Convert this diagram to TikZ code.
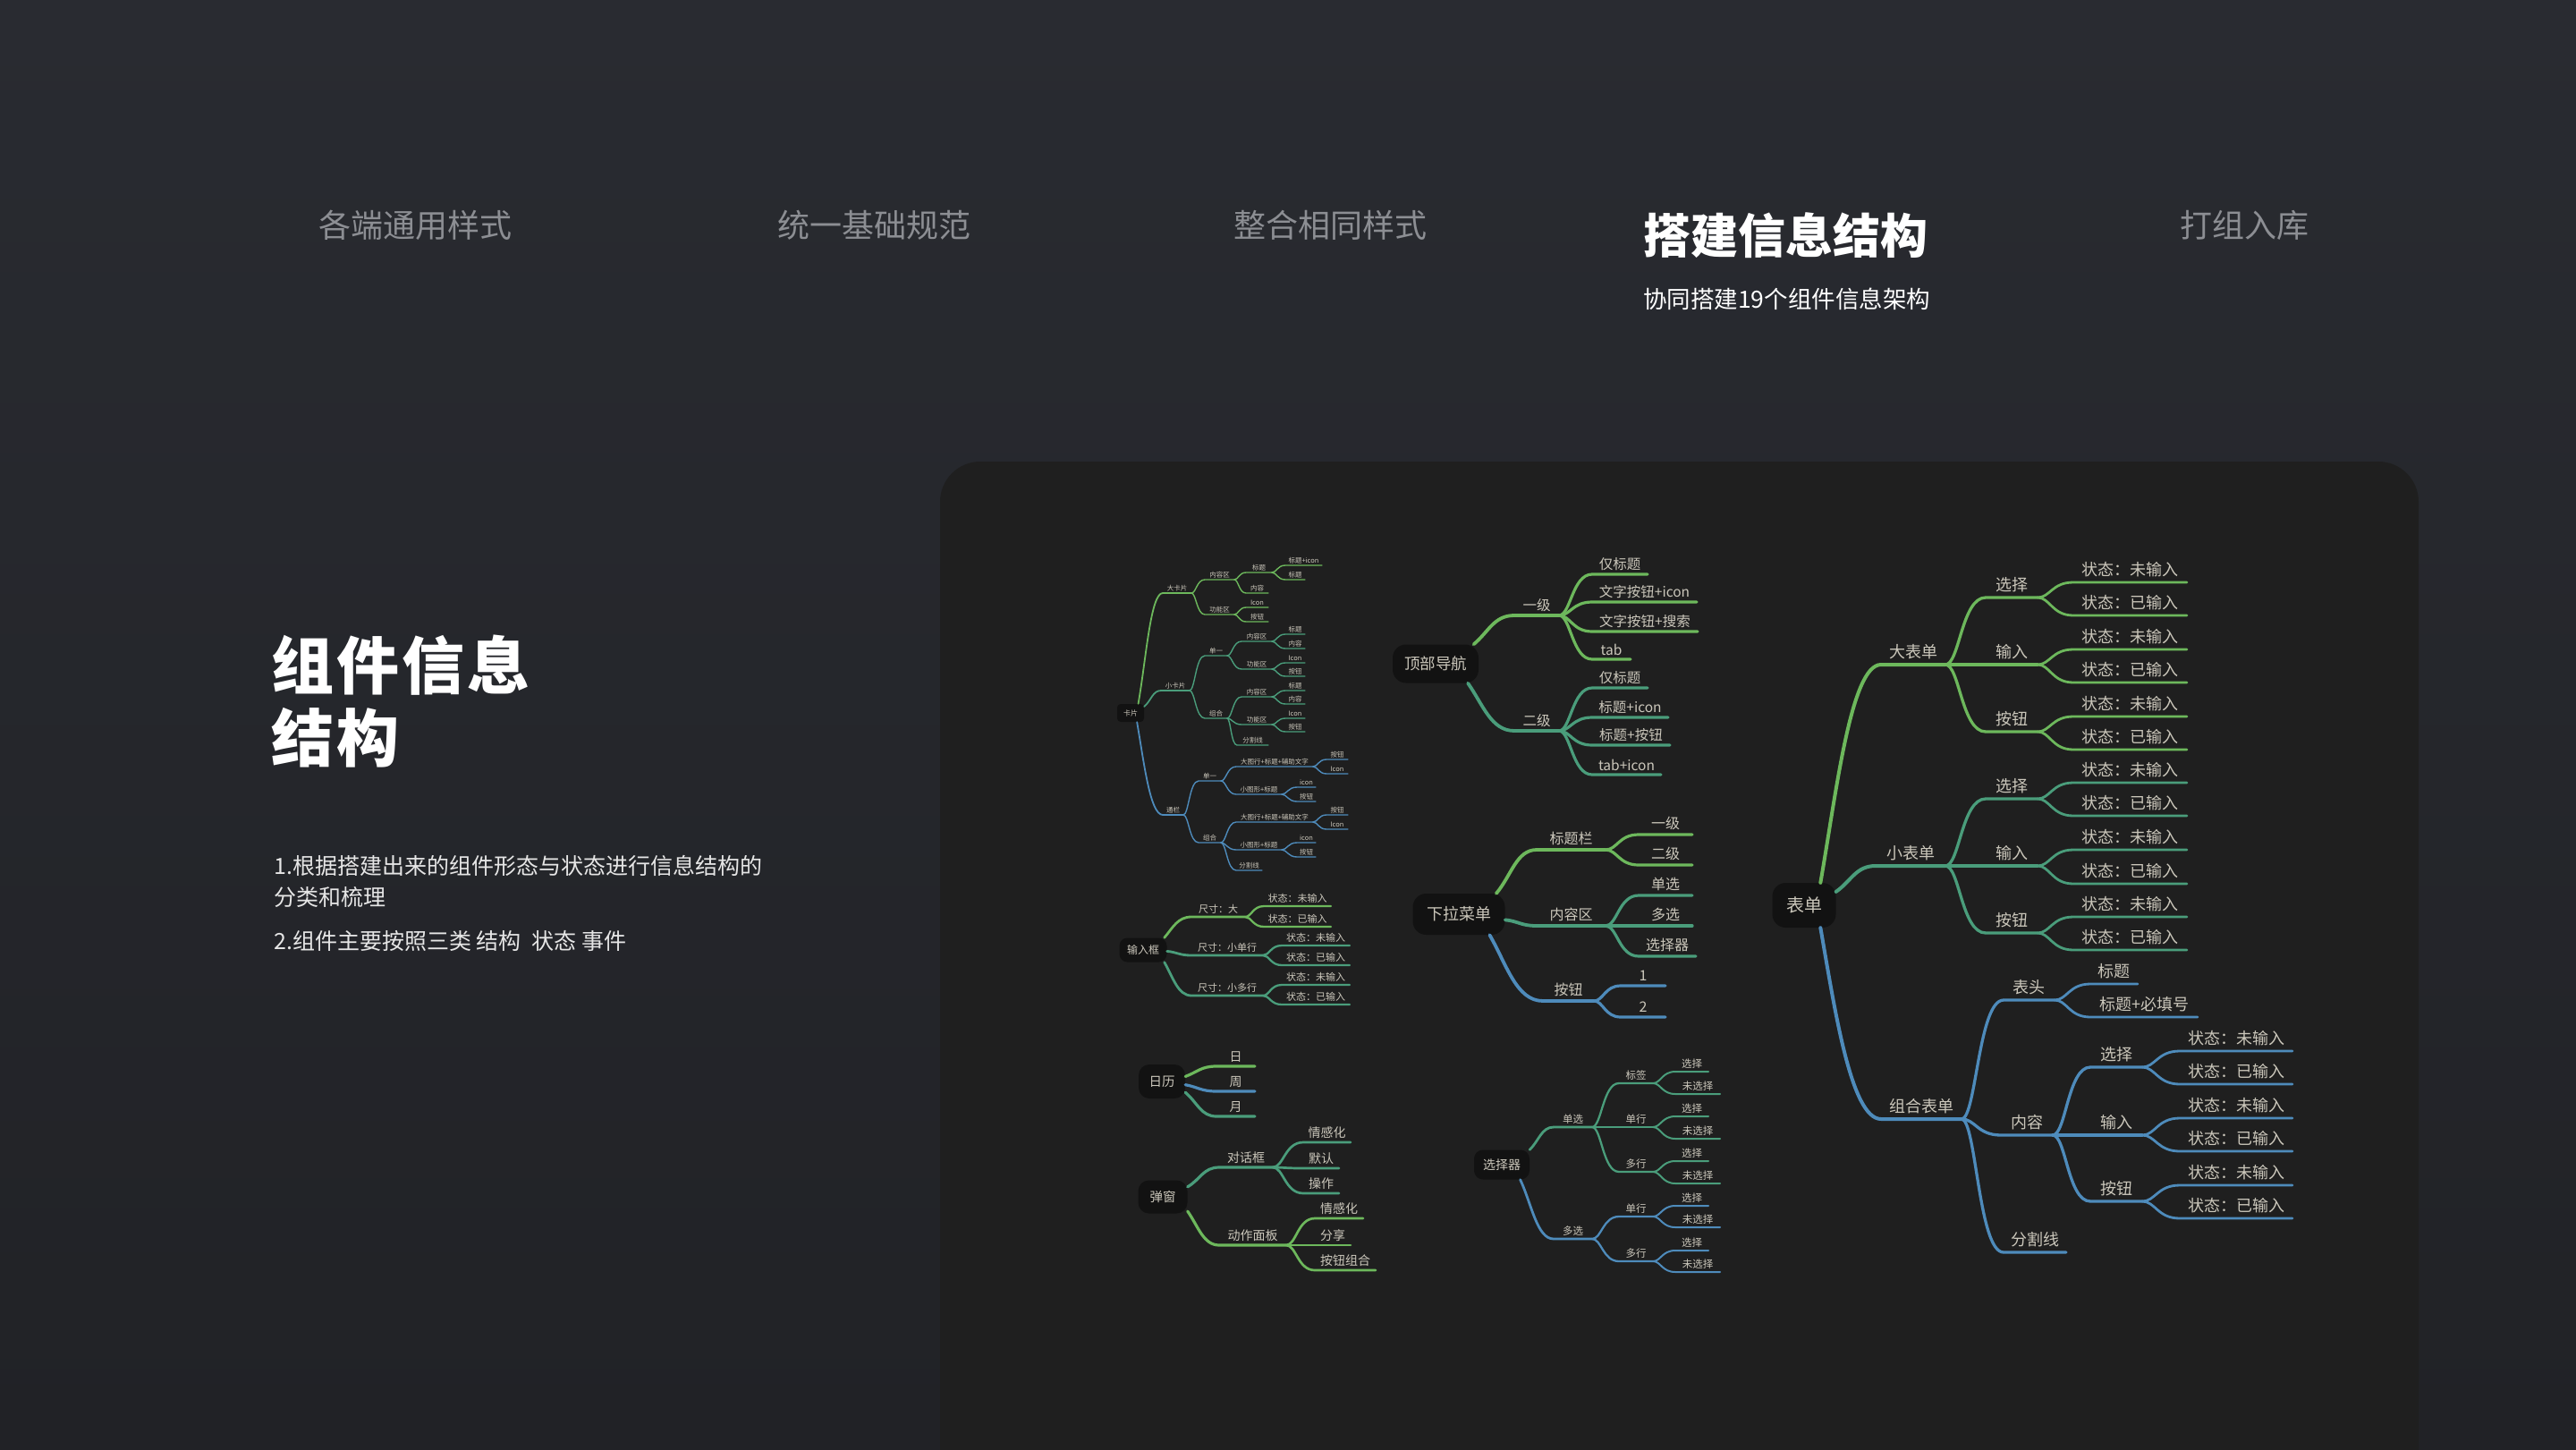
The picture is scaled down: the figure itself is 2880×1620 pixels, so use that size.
\documentclass[tikz,border=0pt]{standalone}
\usepackage{fontspec}
\setmainfont{Noto Sans CJK SC}
\usetikzlibrary{calc}
\definecolor{cg}{HTML}{6DB85C}
\definecolor{ct}{HTML}{4A9D7B}
\definecolor{cb}{HTML}{4E8BBB}
\definecolor{txt}{HTML}{CBC7BB}
\definecolor{boxf}{HTML}{121212}
\definecolor{panel}{HTML}{1F1F1F}
\definecolor{bgtop}{HTML}{292B31}
\definecolor{bgbot}{HTML}{212226}
\definecolor{hdr}{HTML}{8C8E93}
\definecolor{desc}{HTML}{E6E6E6}
\newcommand\fs[1]{\fontsize{#1pt}{#1pt}\selectfont}
% child branch: [opts]{colour}{name}{parent}{x1}{x2}{y}{text}
\newcommand\mm[8][]{%
  \coordinate (#3-s) at (#5,-#7);
  \coordinate (#3-e) at (#6,-#7);
  \node[lbl] (#3) at ({(#5+#6)/2},-#7) {#8};
  \draw[conn,#2,#1] let \p1=(#4-e), \p2=(#3-s), \n2={\x2-\x1} in
    (\p1) .. controls +({0.35*\n2},0) and +({-0.6*\n2},0) .. (\p2) -- (#3-e);
}
% root branch: [opts]{colour}{name}{start}{out angle}{x1}{x2}{y}{text}
\newcommand\mr[9][]{%
  \coordinate (#3-s) at (#6,-#8);
  \coordinate (#3-e) at (#7,-#8);
  \node[lbl] (#3) at ({(#6+#7)/2},-#8) {#9};
  \draw[rconn,#2,#1] let \p1=(#4), \p2=(#3-s), \n1={veclen(\x2-\x1,\y2-\y1)}, \n2={\x2-\x1} in
    (\p1) .. controls +(#5:{0.4*\n1}) and +({-0.5*\n2},0) .. (\p2) -- (#3-e);
}
\tikzset{
  lbl/.style={anchor=south, inner xsep=0pt, text=txt},
  conn/.style={line cap=round},
  rconn/.style={line cap=round},
  rootbox/.style={fill=boxf, text=txt, inner sep=0pt},
  hdrtxt/.style={anchor=west, inner sep=0pt, text=hdr, font=\fs{36}},
}
\begin{document}
\begin{tikzpicture}[x=1pt,y=1pt]
\useasboundingbox (0,0) rectangle (2880,-1620);
\shade[top color=bgtop, bottom color=bgbot] (0,0) rectangle (2880,-1620);
\fill[panel, rounded corners=45pt] (1051,-516) rectangle (2704,-1720);

% header
\node[hdrtxt] (h1) at (356,-252) {各端通用样式};
\node[hdrtxt] (h2) at (869,-252) {统一基础规范};
\node[hdrtxt] (h3) at (1379,-252) {整合相同样式};
\node[hdrtxt, text=white, font=\fs{53}\bfseries] (h4) at (1837,-263) {搭建信息结构};
\node[hdrtxt] (h5) at (2437,-252) {打组入库};
\node[hdrtxt, text=white, font=\fs{26.5}] (h6) at (1837,-334) {协同搭建19个组件信息架构};

% left texts
\node[anchor=base west, inner sep=0pt, text=white, font=\fs{70}\bfseries] (t1) at (303,-770) {组\hspace{3pt}件\hspace{3pt}信\hspace{3pt}息};
\node[anchor=base west, inner sep=0pt, text=white, font=\fs{70}\bfseries] (t2) at (303,-851) {结\hspace{3pt}构};
\node[anchor=base west, inner sep=0pt, text=desc, font=\fs{25}] (p1) at (306,-977) {1.根据搭建出来的组件形态与状态进行信息结构的};
\node[anchor=base west, inner sep=0pt, text=desc, font=\fs{25}] (p2) at (306,-1012) {分类和梳理};
\node[anchor=base west, inner sep=0pt, text=desc, font=\fs{25}] (p3) at (306,-1061) {2.组件主要按照三类 结构\hspace{12pt}状态 事件};

% ---------- 卡片 ----------
\begin{scope}[lbl/.append style={font=\fs{7.5}, inner ysep=2pt}, rconn/.append style={line width=1.8pt}, conn/.append style={line width=1.4pt}]
\node[rootbox, minimum width=30, minimum height=20, rounded corners=4pt, font=\fs{8}] (k) at (1264,-797) {卡片};
\mr{cg}{k1}{k.50}{80}{1300}{1332}{663}{大卡片}
\mm{cg}{k11}{k1}{1347}{1380}{648}{内容区}
\mm{cg}{k111}{k11}{1393}{1422}{640}{标题}
\mm{cg}{k1111}{k111}{1437}{1478}{632}{标题+icon}
\mm{cg}{k1112}{k111}{1437}{1459}{648}{标题}
\mm{cg}{k112}{k11}{1393}{1418}{663}{内容}
\mm{cg}{k12}{k1}{1347}{1380}{687}{功能区}
\mm{cg}{k121}{k12}{1393}{1418}{679}{Icon}
\mm{cg}{k122}{k12}{1393}{1418}{695}{按钮}
\mr{ct}{k2}{k.25}{40}{1298}{1330}{772}{小卡片}
\mm{ct}{k21}{k2}{1347}{1372}{733}{单一}
\mm{ct}{k211}{k21}{1388}{1422}{717}{内容区}
\mm{ct}{k2111}{k211}{1437}{1459}{709}{标题}
\mm{ct}{k2112}{k211}{1437}{1459}{725}{内容}
\mm{ct}{k212}{k21}{1388}{1422}{748}{功能区}
\mm{ct}{k2121}{k212}{1437}{1459}{741}{Icon}
\mm{ct}{k2122}{k212}{1437}{1459}{756}{按钮}
\mm{ct}{k22}{k2}{1347}{1372}{803}{组合}
\mm{ct}{k221}{k22}{1388}{1422}{779}{内容区}
\mm{ct}{k2211}{k221}{1437}{1459}{772}{标题}
\mm{ct}{k2212}{k221}{1437}{1459}{787}{内容}
\mm{ct}{k222}{k22}{1388}{1422}{810}{功能区}
\mm{ct}{k2221}{k222}{1437}{1459}{803}{Icon}
\mm{ct}{k2222}{k222}{1437}{1459}{818}{按钮}
\mm{ct}{k223}{k22}{1383}{1418}{833}{分割线}
\mr{cb}{k3}{k.-55}{-80}{1300}{1323}{911}{通栏}
\mm{cb}{k31}{k3}{1340}{1365}{873}{单一}
\mm{cb}{k311}{k31}{1382}{1468}{857}{大图行+标题+辅助文字}
\mm{cb}{k3111}{k311}{1483}{1507}{849}{按钮}
\mm{cb}{k3112}{k311}{1483}{1507}{865}{Icon}
\mm{cb}{k312}{k31}{1382}{1433}{888}{小图形+标题}
\mm{cb}{k3121}{k312}{1450}{1471}{880}{icon}
\mm{cb}{k3122}{k312}{1450}{1471}{896}{按钮}
\mm{cb}{k32}{k3}{1340}{1365}{942}{组合}
\mm{cb}{k321}{k32}{1382}{1468}{919}{大图行+标题+辅助文字}
\mm{cb}{k3211}{k321}{1483}{1507}{911}{按钮}
\mm{cb}{k3212}{k321}{1483}{1507}{927}{Icon}
\mm{cb}{k322}{k32}{1382}{1433}{950}{小图形+标题}
\mm{cb}{k3221}{k322}{1450}{1471}{942}{icon}
\mm{cb}{k3222}{k322}{1450}{1471}{958}{按钮}
\mm{cb}{k323}{k32}{1382}{1411}{973}{分割线}
\end{scope}

% ---------- 输入框 ----------
\begin{scope}[lbl/.append style={font=\fs{11}, inner ysep=3.5pt}, rconn/.append style={line width=2.8pt}, conn/.append style={line width=2.3pt}]
\node[rootbox, minimum width=53, minimum height=27, rounded corners=9pt, font=\fs{12}] (s) at (1278,-1062) {输入框};
\mr{cg}{s1}{s.30}{50}{1332}{1392}{1025}{尺寸：大}
\mm{cg}{s11}{s1}{1413}{1488}{1013}{状态：未输入}
\mm{cg}{s12}{s1}{1413}{1488}{1036}{状态：已输入}
\mr{ct}{s2}{s.-3}{-5}{1332}{1412}{1068}{尺寸：小单行}
\mm{ct}{s21}{s2}{1433}{1509}{1057}{状态：未输入}
\mm{ct}{s22}{s2}{1433}{1509}{1079}{状态：已输入}
\mr{ct}{s3}{s.-30}{-60}{1332}{1412}{1113}{尺寸：小多行}
\mm{ct}{s31}{s3}{1433}{1509}{1101}{状态：未输入}
\mm{ct}{s32}{s3}{1433}{1509}{1123}{状态：已输入}
\end{scope}

% ---------- 日历 / 弹窗 ----------
\begin{scope}[lbl/.append style={font=\fs{14}, inner ysep=4pt}, rconn/.append style={line width=3.2pt}, conn/.append style={line width=2.7pt}]
\node[rootbox, minimum width=52, minimum height=38, rounded corners=12pt, font=\fs{14.5}] (r) at (1299,-1209) {日历};
\mr{cg}{r1}{r.12}{20}{1360}{1403}{1192}{日}
\mr{cb}{r2}{r.-8}{-10}{1360}{1403}{1220}{周}
\mr{ct}{r3}{r.-25}{-40}{1360}{1403}{1248}{月}
\node[rootbox, minimum width=55, minimum height=37, rounded corners=12pt, font=\fs{14.5}] (w) at (1300,-1338) {弹窗};
\mr{ct}{w1}{w.22}{30}{1363}{1423}{1305}{对话框}
\mm{ct}{w11}{w1}{1457}{1510}{1277}{情感化}
\mm{ct}{w12}{w1}{1457}{1497}{1306}{默认}
\mm{ct}{w13}{w1}{1457}{1497}{1334}{操作}
\mr{cg}{w2}{w.-30}{-55}{1363}{1438}{1392}{动作面板}
\mm{cg}{w21}{w2}{1470}{1524}{1362}{情感化}
\mm{cg}{w22}{w2}{1470}{1510}{1392}{分享}
\mm{cg}{w23}{w2}{1470}{1538}{1420}{按钮组合}
\end{scope}

% ---------- 顶部导航 ----------
\begin{scope}[lbl/.append style={font=\fs{15.5}, inner ysep=4.5pt}, rconn/.append style={line width=3.8pt}, conn/.append style={line width=3.2pt}]
\node[rootbox, minimum width=96, minimum height=43, rounded corners=15pt, font=\fs{17.5}] (d) at (1605,-742) {顶部导航};
\mr{cg}{d1}{d.27}{40}{1693}{1743}{688}{一级}
\mm{cg}{d11}{d1}{1780}{1842}{642}{仅标题}
\mm{cg}{d12}{d1}{1780}{1897}{673}{文字按钮+icon}
\mm{cg}{d13}{d1}{1780}{1898}{706}{文字按钮+搜索}
\mm{cg}{d14}{d1}{1780}{1823}{737}{tab}
\mr{ct}{d2}{d.-31}{-55}{1693}{1743}{817}{二级}
\mm{ct}{d21}{d2}{1780}{1842}{769}{仅标题}
\mm{ct}{d22}{d2}{1780}{1865}{802}{标题+icon}
\mm{ct}{d23}{d2}{1780}{1867}{833}{标题+按钮}
\mm{ct}{d24}{d2}{1780}{1857}{866}{tab+icon}
\end{scope}

% ---------- 下拉菜单 ----------
\begin{scope}[lbl/.append style={font=\fs{16}, inner ysep=5pt}, rconn/.append style={line width=3.8pt}, conn/.append style={line width=3.2pt}]
\node[rootbox, minimum width=103, minimum height=46, rounded corners=15pt, font=\fs{18}] (x) at (1631,-1022) {下拉菜单};
\mr{cg}{x1}{x.29}{50}{1718}{1795}{950}{标题栏}
\mm{cg}{x11}{x1}{1832}{1892}{933}{一级}
\mm{cg}{x12}{x1}{1832}{1892}{967}{二级}
\mr{ct}{x2}{x.-7}{-5}{1718}{1795}{1035}{内容区}
\mm{ct}{x21}{x2}{1832}{1892}{1001}{单选}
\mm{ct}{x22}{x2}{1832}{1892}{1035}{多选}
\mm{ct}{x23}{x2}{1832}{1896}{1069}{选择器}
\mr{cb}{x3}{x.-34}{-60}{1725}{1782}{1119}{按钮}
\mm{cb}{x31}{x3}{1812}{1862}{1102}{1}
\mm{cb}{x32}{x3}{1812}{1862}{1137}{2}
\end{scope}

% ---------- 选择器 ----------
\begin{scope}[lbl/.append style={font=\fs{11.5}, inner ysep=3.5pt}, rconn/.append style={line width=2.8pt}, conn/.append style={line width=2.3pt}, lf/.style={line width=2pt}]
\node[rootbox, minimum width=62, minimum height=33, rounded corners=10pt, font=\fs{14}] (z) at (1679,-1302) {选择器};
\mr{ct}{z1}{z.28}{45}{1737}{1780}{1260}{单选}
\mm{ct}{z11}{z1}{1810}{1848}{1211}{标签}
\mm[lf]{ct}{z111}{z11}{1873}{1910}{1198}{选择}
\mm[lf]{ct}{z112}{z11}{1873}{1923}{1223}{未选择}
\mm{ct}{z12}{z1}{1810}{1848}{1260}{单行}
\mm[lf]{ct}{z121}{z12}{1873}{1910}{1248}{选择}
\mm[lf]{ct}{z122}{z12}{1873}{1923}{1273}{未选择}
\mm{ct}{z13}{z1}{1810}{1848}{1310}{多行}
\mm[lf]{ct}{z131}{z13}{1873}{1910}{1298}{选择}
\mm[lf]{ct}{z132}{z13}{1873}{1923}{1323}{未选择}
\mr{cb}{z2}{z.-39}{-65}{1737}{1780}{1385}{多选}
\mm{cb}{z21}{z2}{1810}{1848}{1360}{单行}
\mm[lf]{cb}{z211}{z21}{1873}{1910}{1348}{选择}
\mm[lf]{cb}{z212}{z21}{1873}{1923}{1372}{未选择}
\mm{cb}{z22}{z2}{1810}{1848}{1410}{多行}
\mm[lf]{cb}{z221}{z22}{1873}{1910}{1398}{选择}
\mm[lf]{cb}{z222}{z22}{1873}{1923}{1422}{未选择}
\end{scope}

% ---------- 表单 ----------
\begin{scope}[lbl/.append style={font=\fs{18}, inner ysep=5.5pt}, rconn/.append style={line width=4pt}, conn/.append style={line width=3.3pt}, lf/.style={line width=2.8pt}]
\node[rootbox, minimum width=71, minimum height=50, rounded corners=15pt, font=\fs{20}] (b) at (2017,-1012) {表单};
\mr{cg}{b1}{b.54}{80}{2103}{2175}{743}{大表单}
\mm{cg}{b11}{b1}{2220}{2278}{668}{选择}
\mm[lf]{cg}{b111}{b11}{2318}{2445}{651}{状态：未输入}
\mm[lf]{cg}{b112}{b11}{2318}{2445}{688}{状态：已输入}
\mm{cg}{b12}{b1}{2220}{2278}{743}{输入}
\mm[lf]{cg}{b121}{b12}{2318}{2445}{726}{状态：未输入}
\mm[lf]{cg}{b122}{b12}{2318}{2445}{763}{状态：已输入}
\mm{cg}{b13}{b1}{2220}{2278}{818}{按钮}
\mm[lf]{cg}{b131}{b13}{2318}{2445}{801}{状态：未输入}
\mm[lf]{cg}{b132}{b13}{2318}{2445}{838}{状态：已输入}
\mr{ct}{b2}{b.23}{35}{2097}{2175}{968}{小表单}
\mm{ct}{b21}{b2}{2220}{2278}{893}{选择}
\mm[lf]{ct}{b211}{b21}{2318}{2445}{875}{状态：未输入}
\mm[lf]{ct}{b212}{b21}{2318}{2445}{912}{状态：已输入}
\mm{ct}{b22}{b2}{2220}{2278}{968}{输入}
\mm[lf]{ct}{b221}{b22}{2318}{2445}{950}{状态：未输入}
\mm[lf]{ct}{b222}{b22}{2318}{2445}{988}{状态：已输入}
\mm{ct}{b23}{b2}{2220}{2278}{1043}{按钮}
\mm[lf]{ct}{b231}{b23}{2318}{2445}{1025}{状态：未输入}
\mm[lf]{ct}{b232}{b23}{2318}{2445}{1062}{状态：已输入}
\mr{cb}{b3}{b.-54}{-80}{2103}{2193}{1251}{组合表单}
\mm{cb}{b31}{b3}{2240}{2297}{1118}{表头}
\mm[lf]{cb}{b311}{b31}{2337}{2390}{1100}{标题}
\mm[lf]{cb}{b312}{b31}{2337}{2457}{1137}{标题+必填号}
\mm{cb}{b32}{b3}{2237}{2295}{1269}{内容}
\mm{cb}{b321}{b32}{2337}{2395}{1193}{选择}
\mm[lf]{cb}{b3211}{b321}{2437}{2563}{1175}{状态：未输入}
\mm[lf]{cb}{b3212}{b321}{2437}{2563}{1212}{状态：已输入}
\mm{cb}{b322}{b32}{2337}{2395}{1269}{输入}
\mm[lf]{cb}{b3221}{b322}{2437}{2563}{1250}{状态：未输入}
\mm[lf]{cb}{b3222}{b322}{2437}{2563}{1287}{状态：已输入}
\mm{cb}{b323}{b32}{2337}{2395}{1343}{按钮}
\mm[lf]{cb}{b3231}{b323}{2437}{2563}{1325}{状态：未输入}
\mm[lf]{cb}{b3232}{b323}{2437}{2563}{1362}{状态：已输入}
\mm{cb}{b33}{b3}{2240}{2310}{1400}{分割线}
\end{scope}
\end{tikzpicture}
\end{document}
